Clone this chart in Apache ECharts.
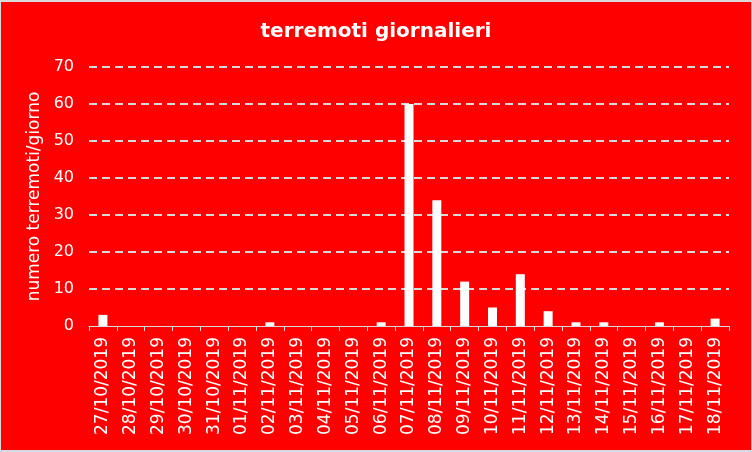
<!DOCTYPE html>
<html>
<head>
<meta charset="utf-8">
<script src="https://cdn.jsdelivr.net/npm/echarts@6/dist/echarts.min.js"></script>
<style>
  html, body { margin: 0; padding: 0; background: #d9d9d9; }
  #chart { position: absolute; left: 1px; top: 2px; width: 750px; height: 448px; }
</style>
</head>
<body>
<div id="chart"></div>
<script>
const giorni = ['27/10/2019', '28/10/2019', '29/10/2019', '30/10/2019', '31/10/2019', '01/11/2019',
    '02/11/2019', '03/11/2019', '04/11/2019', '05/11/2019', '06/11/2019', '07/11/2019',
    '08/11/2019', '09/11/2019', '10/11/2019', '11/11/2019', '12/11/2019', '13/11/2019',
    '14/11/2019', '15/11/2019', '16/11/2019', '17/11/2019', '18/11/2019'];
const terremoti = [3, 0, 0, 0, 0, 0, 1, 0, 0, 0, 1, 60, 34, 12, 5, 14, 4, 1, 1, 0, 1, 0, 2];

const font = 'DejaVu Sans, Verdana, sans-serif';
let chart = echarts.init(document.getElementById('chart'));
chart.setOption({
    backgroundColor: '#ff0000',
    animation: false,
    title: {
        text: 'terremoti giornalieri',
        left: 'center',
        top: 15,
        textStyle: { color: '#ffffff', fontFamily: font, fontSize: 20, fontWeight: 'bold' }
    },
    grid: { left: 88, right: 22, top: 65, bottom: 124 },
    xAxis: {
        type: 'category',
        data: giorni,
        axisLine: { lineStyle: { color: '#d9d9d9', width: 1 } },
        axisTick: { show: true, length: 5, lineStyle: { color: '#d9d9d9' } },
        axisLabel: { rotate: 90, color: '#ffffff', fontFamily: font, fontSize: 17, margin: 11, interval: 0 }
    },
    yAxis: {
        type: 'value',
        min: 0,
        max: 70,
        interval: 10,
        name: 'numero terremoti/giorno',
        nameLocation: 'middle',
        nameGap: 43,
        nameTextStyle: { color: '#ffffff', fontFamily: font, fontSize: 17 },
        axisLine: { show: false },
        axisTick: { show: false },
        axisLabel: { color: '#ffffff', fontFamily: font, fontSize: 16, margin: 15 },
        splitLine: { showMinLine: false, lineStyle: { color: '#d9d9d9', width: 2, type: [8, 5] } }
    },
    series: [{
        type: 'bar',
        data: terremoti,
        barWidth: 9,
        itemStyle: { color: '#ffffff' }
    }]
});
</script>
</body>
</html>
